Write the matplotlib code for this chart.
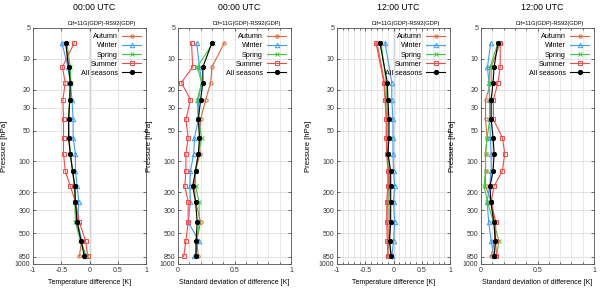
import matplotlib
matplotlib.use('Agg')
import matplotlib.pyplot as plt
import matplotlib.ticker as ticker
import numpy as np

plt.rcParams['font.family'] = ['Liberation Sans', 'DejaVu Sans']

# pressure levels [hPa]
levels = [7, 12, 17, 25, 39, 59, 84, 123, 174, 246, 390, 595, 845]
levels_12 = [7, 17, 25, 39, 59, 84, 123, 174, 246, 390, 595, 845]  # 12 UTC: no 12 hPa level

seasons = ['Autumn', 'Winter', 'Spring', 'Summer', 'All seasons']

# 00 UTC, mean temperature difference [K]
t00_autumn = [-0.42, -0.37, -0.34, -0.35, -0.37, -0.37, -0.34, -0.30, -0.27, -0.25, -0.22, -0.14, -0.18]
t00_winter = [-0.49, -0.38, -0.34, -0.31, -0.29, -0.29, -0.25, -0.25, -0.22, -0.19, -0.21, -0.14, -0.08]
t00_spring = [-0.40, -0.34, -0.33, -0.35, -0.37, -0.36, -0.34, -0.30, -0.26, -0.26, -0.25, -0.16, -0.05]
t00_summer = [-0.27, -0.48, -0.43, -0.47, -0.46, -0.46, -0.46, -0.43, -0.34, -0.25, -0.18, -0.07, -0.03]
t00_all = [-0.42, -0.37, -0.34, -0.35, -0.37, -0.37, -0.34, -0.30, -0.26, -0.25, -0.22, -0.15, -0.09]

# 00 UTC, standard deviation of difference [K]
s00_autumn = [0.41, 0.30, 0.29, 0.245, 0.20, 0.19, 0.195, 0.155, 0.145, 0.155, 0.20, 0.165, 0.18]
s00_winter = [0.165, 0.19, 0.21, 0.18, 0.18, 0.145, 0.14, 0.11, 0.105, 0.11, 0.09, 0.185, 0.145]
s00_spring = [0.31, 0.17, 0.21, 0.17, 0.18, 0.21, 0.18, 0.155, 0.155, 0.185, 0.19, 0.165, 0.155]
s00_summer = [0.12, 0.13, 0.03, 0.11, 0.07, 0.09, 0.07, 0.07, 0.06, 0.09, 0.09, 0.07, 0.05]
s00_all = [0.30, 0.22, 0.22, 0.20, 0.18, 0.19, 0.18, 0.155, 0.13, 0.155, 0.17, 0.16, 0.16]

# 12 UTC, mean temperature difference [K]
t12_autumn = [-0.29, -0.16, -0.14, -0.12, -0.12, -0.11, -0.09, -0.09, -0.10, -0.10, -0.09, -0.10]
t12_winter = [-0.15, -0.03, -0.03, -0.01, -0.01, -0.01, 0.00, 0.02, 0.00, 0.02, 0.00, -0.03]
t12_spring = [-0.22, -0.13, -0.12, -0.10, -0.10, -0.09, -0.07, -0.07, -0.08, -0.07, -0.07, -0.05]
t12_summer = [-0.31, -0.17, -0.15, -0.13, -0.13, -0.12, -0.10, -0.10, -0.12, -0.12, -0.11, -0.10]
t12_all = [-0.24, -0.11, -0.10, -0.08, -0.08, -0.10, -0.05, -0.05, -0.05, -0.05, -0.07, -0.04]

# 12 UTC, standard deviation of difference [K]
s12_autumn = [0.17, 0.09, 0.09, 0.04, 0.04, 0.054, 0.04, 0.04, 0.04, 0.09, 0.12, 0.12, 0.09]
s12_winter = [0.086, 0.057, 0.07, 0.077, 0.077, 0.083, 0.09, 0.09, 0.077, 0.054, 0.068, 0.09, 0.113]
s12_spring = [0.15, 0.08, 0.07, 0.077, 0.077, 0.054, 0.04, 0.04, 0.027, 0.057, 0.11, 0.16, 0.137]
s12_summer = [0.17, 0.17, 0.15, 0.11, 0.11, 0.19, 0.21, 0.19, 0.116, 0.09, 0.13, 0.13, 0.137]
s12_all = [0.15, 0.116, 0.107, 0.09, 0.09, 0.107, 0.116, 0.107, 0.08, 0.086, 0.113, 0.128, 0.116]

colors = ['#d8683c', '#3f9cf2', '#3ec93e', '#f24a4a', 'black']
markers = ['o', '^', 'x', 's', 'o']
msizes = [2.4, 3.2, 3.0, 3.0, 3.0]
fills = ['none', 'none', 'none', 'none', 'black']

ytick_vals = [5, 10, 20, 30, 50, 100, 200, 300, 500, 850, 1000]

panels = [
    (33, '00:00 UTC', 'Temperature difference [K]', levels,
     [t00_autumn, t00_winter, t00_spring, t00_summer, t00_all], 'diff', False),
    (178, '00:00 UTC', 'Standard deviation of difference [K]', levels,
     [s00_autumn, s00_winter, s00_spring, s00_summer, s00_all], 'std', True),
    (337, '12:00 UTC', 'Temperature difference [K]', levels_12,
     [t12_autumn, t12_winter, t12_spring, t12_summer, t12_all], 'diff', True),
    (481, '12:00 UTC', 'Standard deviation of difference [K]', levels,
     [s12_autumn, s12_winter, s12_spring, s12_summer, s12_all], 'std', True),
]

fig = plt.figure(figsize=(6, 2.9), dpi=100)
W, H = 600.0, 290.0

for left, title, xlabel, lev, series, kind, minor_grid in panels:
    ax = fig.add_axes([left / W, 1 - 264 / H, 113 / W, 236 / H])
    for name, vals, c, m, ms, fc in zip(seasons, series, colors, markers, msizes, fills):
        ax.plot(vals, lev, color=c, lw=0.8, marker=m, ms=ms, mfc=fc, mec=c, mew=0.7, label=name)

    ax.set_yscale('log')
    ax.set_ylim(1000, 5)
    ax.yaxis.set_major_locator(ticker.FixedLocator(ytick_vals))
    ax.yaxis.set_major_formatter(ticker.FixedFormatter([str(v) for v in ytick_vals]))
    ax.yaxis.set_minor_locator(ticker.NullLocator())

    if kind == 'diff':
        ax.set_xlim(-1, 1)
        ax.set_xticks([-1, -0.5, 0, 0.5, 1])
        ax.set_xticklabels(['-1', '-0.5', '0', '0.5', '1'])
        ax.axvline(0, color='#aaaaaa', lw=1.0, zorder=0)
    else:
        ax.set_xlim(0, 1)
        ax.set_xticks([0, 0.5, 1])
        ax.set_xticklabels(['0', '0.5', '1'])
    if minor_grid:
        ax.xaxis.set_minor_locator(ticker.MultipleLocator(0.1))
        ax.grid(True, which='minor', axis='x', color='#e4e4e4', lw=0.6)
    ax.grid(True, which='major', color='#dddddd', lw=0.6)
    ax.set_axisbelow(True)

    ax.tick_params(axis='both', which='both', direction='in', top=True, right=True,
                   labelsize=5.0, length=2.5, width=0.5, pad=2, colors='#333333')
    ax.tick_params(axis='x', which='minor', length=1.5)
    for sp in ax.spines.values():
        sp.set_color('#555555')
        sp.set_linewidth(0.6)

    ax.set_xlabel(xlabel, fontsize=5.0, labelpad=4)
    ax.set_ylabel('Pressure [hPa]', fontsize=5.6)
    ax.yaxis.set_label_coords(-0.22, 0.5)

    ax.text(0.54, 1 + 21 / 236, title, transform=ax.transAxes, ha='center', va='center', fontsize=6.3)
    ax.text(0.61, 1 + 5 / 236, 'Dif=11G(GDP)-RS92(GDP)', transform=ax.transAxes,
            ha='center', va='center', fontsize=4.1)

    ax.legend(loc='upper right', bbox_to_anchor=(1.0, 1.0), frameon=False, markerfirst=False,
              fontsize=5.2, handlelength=2.6, handletextpad=0.6, labelspacing=0.3,
              numpoints=1, borderaxespad=0.3)

fig.savefig('out.png', dpi=100)
